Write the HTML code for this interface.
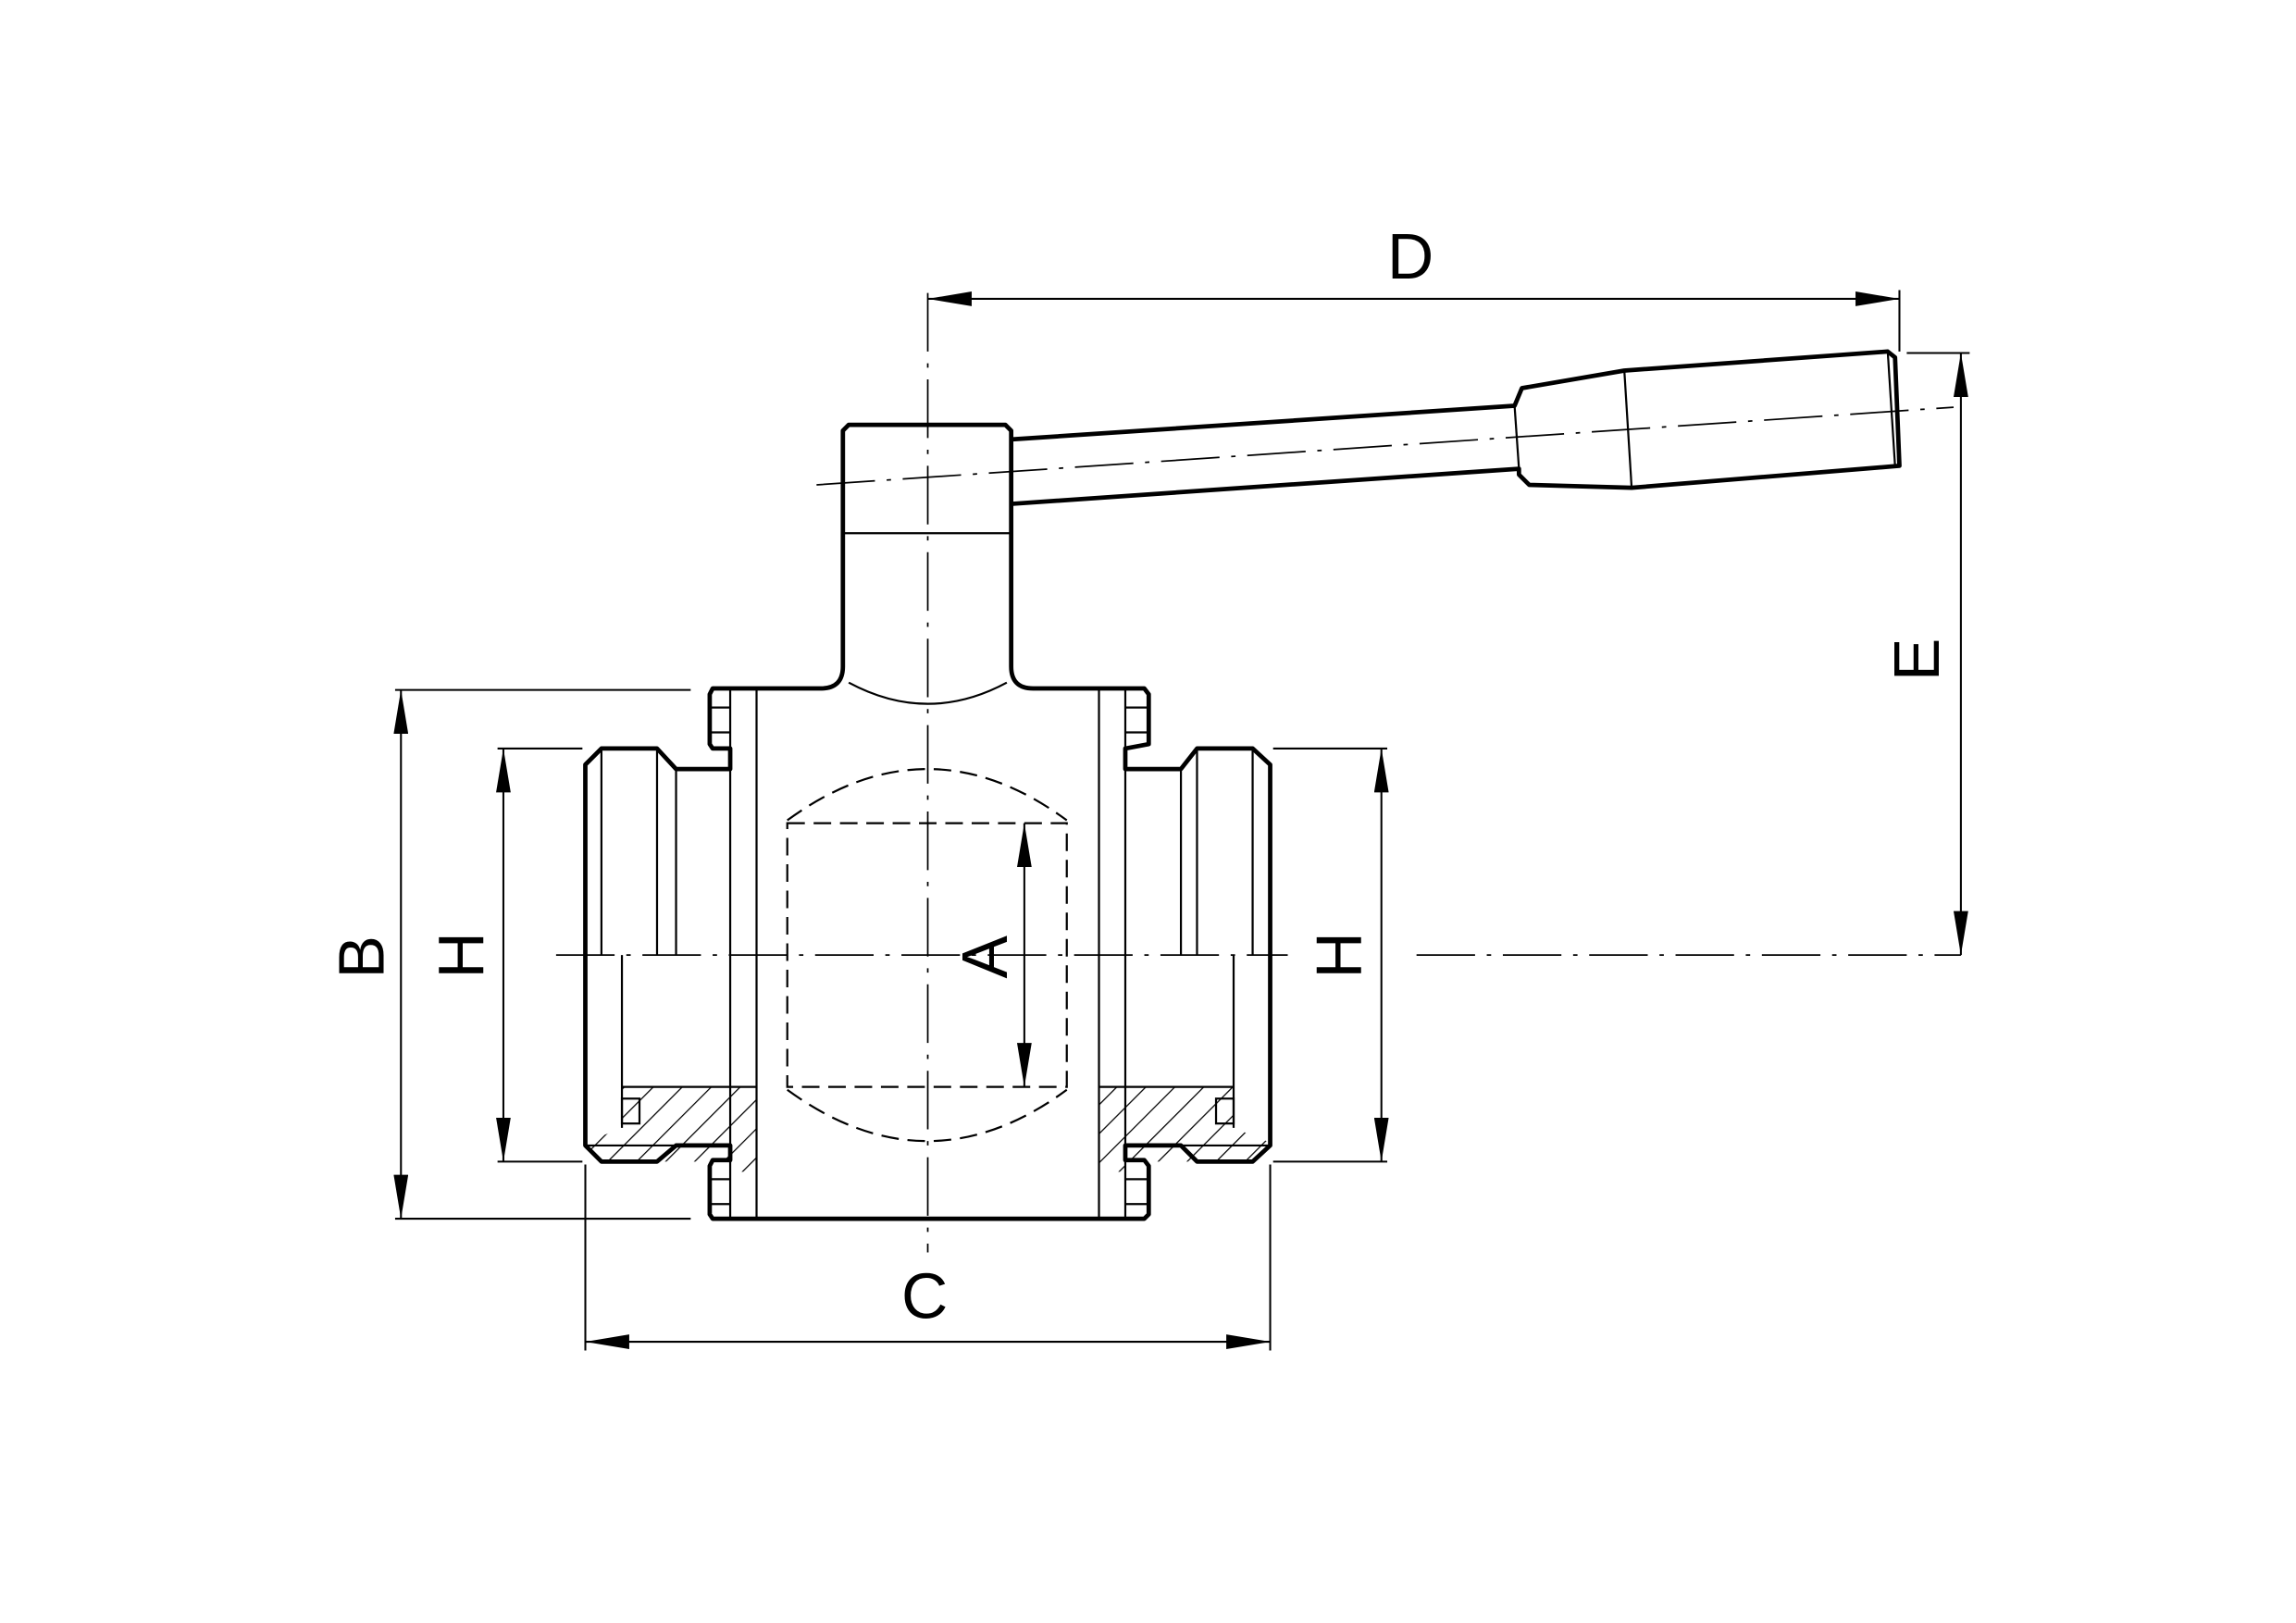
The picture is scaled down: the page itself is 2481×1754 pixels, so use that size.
<!DOCTYPE html>
<html><head><meta charset="utf-8"><style>
html,body{margin:0;padding:0;background:#fff}
svg{display:block}
text{font-family:"Liberation Sans",sans-serif;font-size:44px;fill:#000}
</style></head><body>
<svg width="2481" height="1754" viewBox="0 0 1569 1108" preserveAspectRatio="none" xmlns="http://www.w3.org/2000/svg">
<defs>
<marker id="a" viewBox="0 0 30 10" refX="30" refY="5" markerWidth="30" markerHeight="10" markerUnits="userSpaceOnUse" orient="auto-start-reverse"><path d="M0,0 L30,5 L0,10 Z" fill="#000"/></marker>
<pattern id="h" width="14" height="14" patternUnits="userSpaceOnUse" patternTransform="rotate(45)"><line x1="0" y1="0" x2="0" y2="14" stroke="#000" stroke-width="1.6"/></pattern>
</defs>
<g fill="none" stroke="#000">
<g stroke-width="1.1" stroke-dasharray="40,8,3,8">
<line x1="634" y1="200" x2="634" y2="855"/>
<line x1="380" y1="652" x2="880" y2="652"/>
<line x1="968" y1="652" x2="1340" y2="652"/>
<line x1="558" y1="331" x2="1335" y2="278"/>
</g>
<g stroke-width="1.3">
<line x1="634" y1="204" x2="1298" y2="204" marker-start="url(#a)" marker-end="url(#a)"/>
<line x1="1298" y1="198" x2="1298" y2="240"/>
<line x1="1340" y1="241" x2="1340" y2="652" marker-start="url(#a)" marker-end="url(#a)"/>
<line x1="1303" y1="241" x2="1346" y2="241"/>
<line x1="274" y1="471" x2="274" y2="832" marker-start="url(#a)" marker-end="url(#a)"/>
<line x1="270" y1="471" x2="472" y2="471"/><line x1="270" y1="832" x2="472" y2="832"/>
<line x1="344" y1="511" x2="344" y2="793" marker-start="url(#a)" marker-end="url(#a)"/>
<line x1="340" y1="511" x2="398" y2="511"/><line x1="340" y1="793" x2="398" y2="793"/>
<line x1="944" y1="511" x2="944" y2="793" marker-start="url(#a)" marker-end="url(#a)"/>
<line x1="870" y1="511" x2="948" y2="511"/><line x1="870" y1="793" x2="948" y2="793"/>
<line x1="400" y1="916" x2="868" y2="916" marker-start="url(#a)" marker-end="url(#a)"/>
<line x1="400" y1="795" x2="400" y2="922"/><line x1="868" y1="795" x2="868" y2="922"/>
<line x1="700" y1="562" x2="700" y2="742" marker-start="url(#a)" marker-end="url(#a)"/>
</g>
<g stroke-width="1.4" stroke-dasharray="12,6">
<rect x="538" y="562" width="191" height="180"/>
<path d="M538,560 Q634,490 729,560"/>
<path d="M538,744 Q634,814 729,744"/>
</g>
<g stroke="none" fill="url(#h)">
<path d="M425,742 L517,742 L517,800 L500,800 L500,793 L462,793 L449,793 L411,793 L400,780 L425,770 Z"/>
<path d="M751,742 L843,742 L843,770 L868,780 L856,793 L818,793 L769,793 L769,800 L751,800 Z"/>
</g>
<g stroke-width="3" stroke-linejoin="round">
<path d="M576,455 L576,294 L580,290 L687,290 L691,294 L691,455 Q691,470 706,470 L782,470 L785,474 L785,508 L769,511 L769,525 L807,525 L818,511 L856,511 L868,522 L868,782 L856,793 L818,793 L807,782 L769,782 L769,792 L782,792 L785,796 L785,829 L782,832 L487,832 L485,829 L485,796 L487,792 L499,792 L499,782 L462,782 L449,793 L411,793 L400,782 L400,522 L411,511 L449,511 L462,525 L499,525 L499,511 L487,511 L485,508 L485,474 L487,470 L561,470 Q576,470 576,455 Z"/>
<path d="M691,300 L1035,277 L1040,265 L1110,253 L1290,240 L1295,244 L1298,318 L1115,333 L1045,331 L1038,324 L1038,320 L691,344"/>
</g>
<g stroke-width="1.4">
<line x1="576" y1="364" x2="691" y2="364"/>
<line x1="691" y1="300" x2="691" y2="344"/>
<line x1="1035" y1="277" x2="1038" y2="320"/>
<line x1="1110" y1="253" x2="1115" y2="333"/>
<line x1="1290" y1="240" x2="1295" y2="318"/>
<path d="M580,466 Q634,495 688,466"/>
<line x1="499" y1="470" x2="499" y2="832"/><line x1="517" y1="470" x2="517" y2="832"/>
<line x1="751" y1="470" x2="751" y2="832"/><line x1="769" y1="470" x2="769" y2="832"/>
<line x1="485" y1="483" x2="499" y2="483"/><line x1="485" y1="500" x2="499" y2="500"/>
<line x1="485" y1="805" x2="499" y2="805"/><line x1="485" y1="822" x2="499" y2="822"/>
<line x1="769" y1="483" x2="785" y2="483"/><line x1="769" y1="500" x2="785" y2="500"/>
<line x1="769" y1="805" x2="785" y2="805"/><line x1="769" y1="822" x2="785" y2="822"/>
<line x1="411" y1="511" x2="411" y2="652"/><line x1="449" y1="511" x2="449" y2="652"/><line x1="462" y1="525" x2="462" y2="652"/>
<line x1="425" y1="652" x2="425" y2="770"/>
<line x1="425" y1="742" x2="517" y2="742"/>
<line x1="818" y1="511" x2="818" y2="652"/><line x1="856" y1="511" x2="856" y2="652"/><line x1="807" y1="525" x2="807" y2="652"/>
<line x1="843" y1="652" x2="843" y2="770"/>
<line x1="751" y1="742" x2="843" y2="742"/>
<rect x="425" y="750" width="12" height="17"/>
<rect x="831" y="750" width="12" height="17"/>
<line x1="400" y1="782" x2="462" y2="782"/><line x1="807" y1="782" x2="868" y2="782"/>
</g>
</g>
<text x="948" y="190">D</text>
<text x="616" y="900">C</text>
<text transform="translate(1325,465) rotate(-90)">E</text>
<text transform="translate(262,668) rotate(-90)">B</text>
<text transform="translate(330,668) rotate(-90)">H</text>
<text transform="translate(930,668) rotate(-90)">H</text>
<text transform="translate(688,668) rotate(-90)">A</text>
</svg>
</body></html>
